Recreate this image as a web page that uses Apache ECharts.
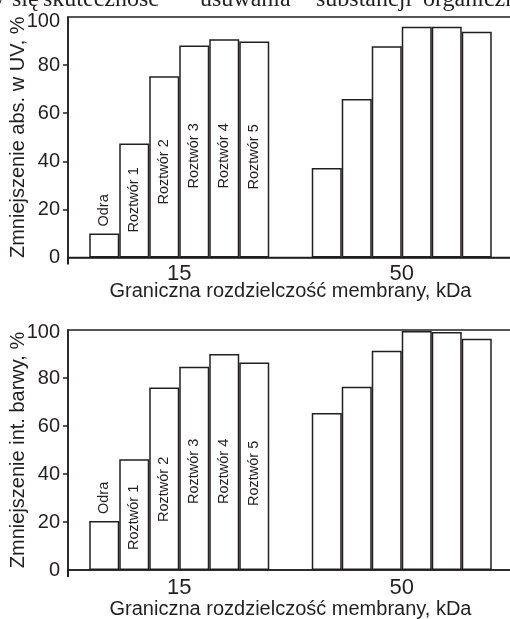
<!DOCTYPE html>
<html>
<head>
<meta charset="utf-8">
<script src="https://cdn.jsdelivr.net/npm/echarts@6/dist/echarts.min.js"></script>
<style>
html,body{margin:0;padding:0;background:#fff;}
#chart{width:510px;height:619px;}
</style>
</head>
<body>
<div id="chart"></div>
<script>
// ---- data ----
const categories = ['15', '50'];
const seriesNames = ['Odra', 'Roztwór 1', 'Roztwór 2', 'Roztwór 3', 'Roztwór 4', 'Roztwór 5'];
const uv15 = [10.0, 47.4, 75.4, 88.2, 90.7, 89.8];
const uv50 = [37.2, 65.9, 87.8, 95.9, 95.9, 93.9];
const col15 = [20.4, 46.1, 76.0, 84.7, 90.0, 86.5];
const col50 = [65.4, 76.4, 91.4, 99.6, 99.2, 96.4];
const yTicks = [0, 20, 40, 60, 80, 100];
const yMinorTicks = [20, 40, 60, 80];
const xTitle = 'Graniczna rozdzielczość membrany, kDa';
const yTitleTop = 'Zmniejszenie abs. w UV, %';
const yTitleBottom = 'Zmniejszenie int. barwy, %';
const headerWords = ['w', 'się', 'skuteczność', 'usuwania', 'substancji', 'organiczn'];

// ---- styles / layout ----
const INK = '#231f20';
const FONT = '"Liberation Sans", Arial, sans-serif';
const labelDistTop = [31, 25, 53, 69, 69, 68];
const labelDistBottom = [56, 20, 48, 66, 66, 64];
const headerX = [-13, 12, 43, 200, 316, 423];

const chart = echarts.init(document.getElementById('chart'), null, {renderer: 'canvas'});

function makeGrid(top, height) {
  return {left: 68, top: top, width: 445, height: height, show: true,
          outerBoundsMode: 'none', containLabel: false,
          borderColor: INK, borderWidth: 1.5, backgroundColor: 'transparent'};
}
function makeX(gi, gap, margin) {
  return {
    type: 'category', gridIndex: gi, data: categories,
    axisLine: {lineStyle: {color: INK, width: 1.5}},
    axisTick: {show: true, interval: (i) => i === 1, length: 7, lineStyle: {color: INK, width: 2}},
    axisLabel: {color: INK, fontSize: 22, fontFamily: FONT, margin: margin},
    name: xTitle, nameLocation: 'middle', nameGap: gap, nameMoveOverlap: false,
    nameTextStyle: {color: INK, fontSize: 20, fontFamily: FONT},
    splitLine: {show: false}
  };
}
function makeY(gi, title, topPad) {
  return {
    type: 'value', gridIndex: gi, min: 0, max: 100, interval: 20,
    axisLine: {show: true, lineStyle: {color: INK, width: 1.5}},
    axisTick: {show: true, inside: false, length: 5, customValues: yMinorTicks,
               lineStyle: {color: INK, width: 1.5}},
    axisLabel: {color: INK, fontSize: 20, fontFamily: FONT, margin: 8, customValues: yTicks,
      formatter: (v) => v === 100 ? '{m|' + v + '}' : String(v),
      rich: {m: {color: INK, fontSize: 20, fontFamily: FONT, padding: [topPad, 0, 0, 0]}}},
    splitLine: {show: false},
    name: title, nameLocation: 'middle', nameGap: 40, nameMoveOverlap: false,
    nameTextStyle: {color: INK, fontSize: 20, fontFamily: FONT}
  };
}
function makeSeries(gi, v15, v50, dists) {
  return seriesNames.map((name, i) => ({
    type: 'bar', name: name, xAxisIndex: gi, yAxisIndex: gi,
    barWidth: 30, barGap: '0%',
    itemStyle: {color: '#ffffff', borderColor: INK, borderWidth: 1.5},
    data: [
      {value: v15[i], label: {show: true, position: 'insideBottom', distance: dists[i],
        rotate: 90, align: 'left', verticalAlign: 'middle',
        formatter: name, color: INK, fontSize: 14.5, fontFamily: FONT}},
      {value: v50[i]}
    ]
  }));
}

const option = {
  animation: false,
  backgroundColor: '#ffffff',
  grid: [makeGrid(17, 240.5), makeGrid(330, 240)],
  xAxis: [makeX(0, 24, 5), makeX(1, 29, 7)],
  yAxis: [makeY(0, yTitleTop, 9), makeY(1, yTitleBottom, 4)],
  series: [].concat(makeSeries(0, uv15, uv50, labelDistTop), makeSeries(1, col15, col50, labelDistBottom)),
  graphic: headerWords.map((w, i) => ({
    type: 'text', x: headerX[i], y: 0,
    style: {text: w, font: '24px "Liberation Serif", "Times New Roman", serif',
            fill: INK, verticalAlign: 'middle', align: 'left'}
  }))
};
chart.setOption(option);
</script>
</body>
</html>
